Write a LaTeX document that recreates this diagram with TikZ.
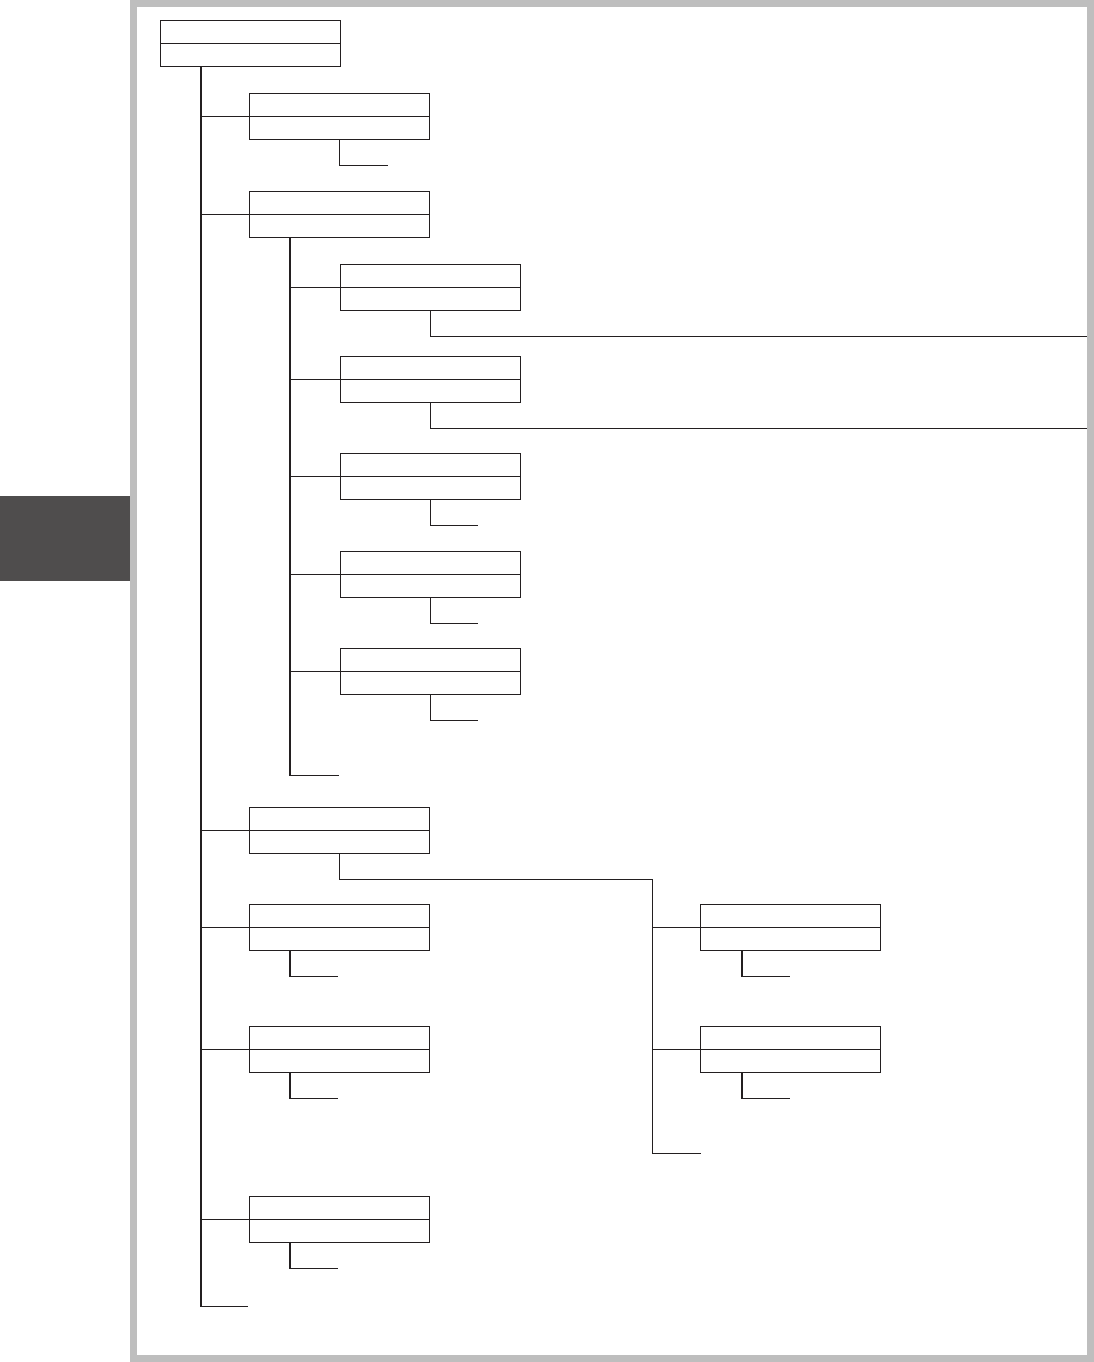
\documentclass[tikz,border=0pt]{standalone}
\usepackage{tikz}
\definecolor{framegray}{HTML}{BEBEBE}
\definecolor{tabgray}{HTML}{4F4D4D}
\definecolor{ink}{HTML}{231F20}

\begin{document}
\begin{tikzpicture}[x=1pt,y=-1pt,
  card/.style={draw=ink,line width=1.4pt,minimum width=180pt,minimum height=46pt,inner sep=0pt,anchor=north west,
    path picture={\draw[ink,line width=1.4pt] (path picture bounding box.west) -- (path picture bounding box.east);}},
  link/.style={draw=ink,line width=1.4pt}]
\useasboundingbox (0,0) rectangle (1094,1362);
\fill[tabgray] (0,496) rectangle (130,581);
\draw[framegray,line width=7pt] (133.5,3.5) rectangle (1090.5,1358.5);
\coordinate (rim) at (1087,0);

\node[card] (root) at (160,20) {};
\node[card] (a1) at (249,93) {};
\node[card] (a2) at (249,191) {};
\node[card] (b1) at (339.5,264) {};
\node[card] (b2) at (339.5,356) {};
\node[card] (b3) at (339.5,453) {};
\node[card] (b4) at (339.5,551) {};
\node[card] (b5) at (339.5,648) {};
\node[card] (a3) at (249,807) {};
\node[card] (a4) at (249,904) {};
\node[card] (a5) at (249,1026) {};
\node[card] (a6) at (249,1196) {};
\node[card] (c1) at (700,904) {};
\node[card] (c2) at (700,1026) {};

\coordinate (t0) at ([xshift=41pt]root.south west);
\draw[link] (t0) |- (a1.west);
\draw[link] (t0) |- (a2.west);
\draw[link] (t0) |- (a3.west);
\draw[link] (t0) |- (a4.west);
\draw[link] (t0) |- (a5.west);
\draw[link] (t0) |- (a6.west);
\draw[link] (t0) -- ++(0,1239) -- ++(47,0);

\coordinate (s0) at ([xshift=41pt]a2.south west);
\draw[link] (s0) |- (b1.west);
\draw[link] (s0) |- (b2.west);
\draw[link] (s0) |- (b3.west);
\draw[link] (s0) |- (b4.west);
\draw[link] (s0) |- (b5.west);
\draw[link] (s0) -- ++(0,537) -- ++(49,0);

\draw[link] (a3.south) -- ++(0,25) -- ++(313,0) coordinate (c0) -- ++(0,274) -- ++(48,0);
\draw[link] (c0) |- (c1.west);
\draw[link] (c0) |- (c2.west);

\draw[link] (a1.south) -- ++(0,25) -- ++(48,0);
\draw[link] (b1.south) -- ++(0,25) coordinate (p1) -- (p1 -| rim);
\draw[link] (b2.south) -- ++(0,25) coordinate (p2) -- (p2 -| rim);
\draw[link] (b3.south) -- ++(0,25) -- ++(48,0);
\draw[link] (b4.south) -- ++(0,25) -- ++(48,0);
\draw[link] (b5.south) -- ++(0,25) -- ++(48,0);
\draw[link] ([xshift=41pt]a4.south west) -- ++(0,25) -- ++(48,0);
\draw[link] ([xshift=41pt]a5.south west) -- ++(0,25) -- ++(48,0);
\draw[link] ([xshift=41pt]a6.south west) -- ++(0,25) -- ++(48,0);
\draw[link] ([xshift=42pt]c1.south west) -- ++(0,25) -- ++(48,0);
\draw[link] ([xshift=42pt]c2.south west) -- ++(0,25) -- ++(48,0);
\end{tikzpicture}
\end{document}
